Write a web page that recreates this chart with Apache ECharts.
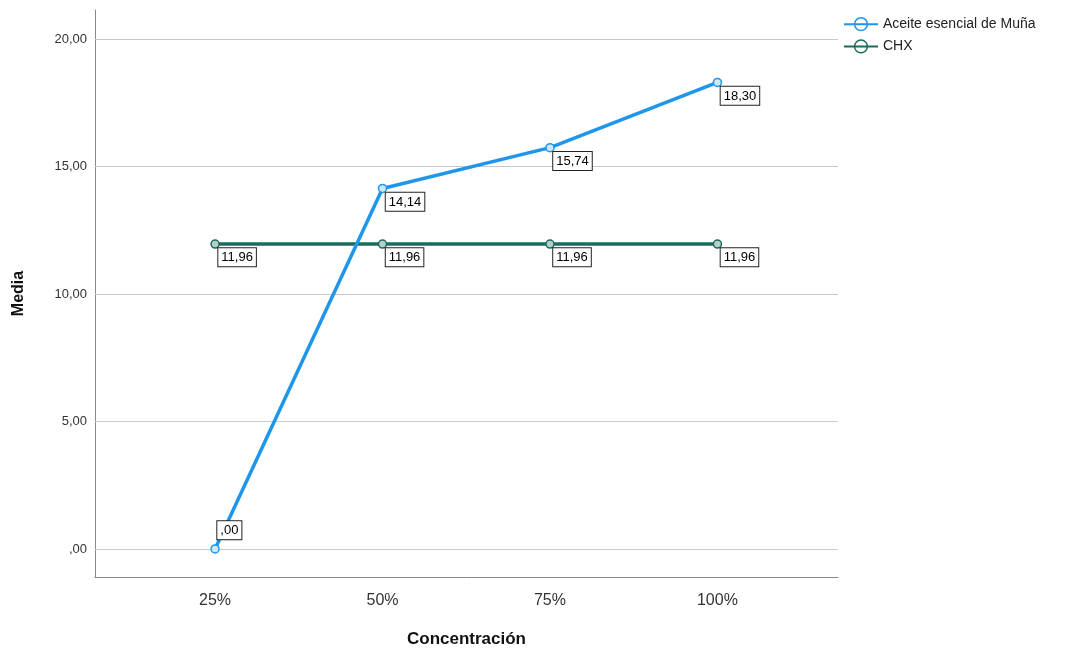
<!DOCTYPE html>
<html><head><meta charset="utf-8">
<script src="https://cdn.jsdelivr.net/npm/echarts@6/dist/echarts.min.js"></script>
<style>html,body{margin:0;padding:0;background:#fff}#c{width:1074px;height:655px}</style>
</head><body><div id="c"></div>
<script>
const categories = ['25%', '50%', '75%', '100%'];
const muna = [0.00, 14.14, 15.74, 18.30];
const chx = [11.96, 11.96, 11.96, 11.96];
const yTicks = [0, 5, 10, 15, 20];

function fmt(v){
  const s = v.toFixed(2).replace('.', ',');
  return s.startsWith('0,') ? s.slice(1) : s;
}
const FF = 'Liberation Sans, Arial, sans-serif';
const xs = categories.map((c, i) => i + 1);
const labelBase = {
  show: true, formatter: p => fmt(p.value[1]),
  color: '#000', fontSize: 13, fontFamily: FF,
  backgroundColor: '#fff', borderColor: '#222', borderWidth: 1, padding: [3, 3, 2, 3],
  position: [8, 9]
};
const chart = echarts.init(document.getElementById('c'));
chart.setOption({
  animation: false,
  grid: { left: 95, right: 236, top: 10, bottom: 78 },
  legend: {
    orient: 'vertical', left: 838, top: 12, itemGap: 8, itemWidth: 34, itemHeight: 16,
    textStyle: { fontSize: 14, color: '#222', fontFamily: FF },
    itemStyle: { color: 'transparent', borderWidth: 1.5 },
    data: ['Aceite esencial de Muña', 'CHX']
  },
  xAxis: {
    type: 'value', min: 0.283, max: 4.72,
    name: 'Concentración', nameLocation: 'middle', nameGap: 54,
    nameTextStyle: { fontSize: 17, fontWeight: 'bold', color: '#111', fontFamily: FF },
    axisLine: { show: true, onZero: false, lineStyle: { color: '#888', width: 1 } },
    axisTick: { show: false },
    splitLine: { show: false },
    axisLabel: { customValues: xs, formatter: v => categories[Math.round(v) - 1] || '',
      fontSize: 16, color: '#333', margin: 16, fontFamily: FF }
  },
  yAxis: {
    type: 'value', min: -1.1, max: 21.14,
    name: 'Media', nameLocation: 'middle', nameGap: 68, nameRotate: 90,
    nameTextStyle: { fontSize: 16, fontWeight: 'bold', color: '#111', fontFamily: FF },
    axisLine: { show: true, onZero: false, lineStyle: { color: '#888', width: 1 } },
    axisTick: { show: false },
    splitLine: { show: false },
    axisLabel: { customValues: yTicks, formatter: v => fmt(v), fontSize: 13, color: '#333', margin: 8, fontFamily: FF }
  },
  series: [
    {
      name: 'Aceite esencial de Muña', type: 'line',
      data: xs.map((x, i) => {
        const item = { value: [x, muna[i]] };
        if (muna[i] === 0) item.label = { position: [7, -23] };
        return item;
      }),
      symbol: 'circle', symbolSize: 8,
      lineStyle: { color: '#1E96EB', width: 3.5 },
      itemStyle: { color: '#cfe7f9', borderColor: '#1E96EB', borderWidth: 1.5 },
      label: Object.assign({}, labelBase),
      z: 3,
      markLine: {
        silent: true, symbol: 'none', label: { show: false },
        lineStyle: { color: '#c8c8c8', width: 1, type: 'solid' },
        data: yTicks.map(v => ({ yAxis: v })),
        z: 1
      }
    },
    {
      name: 'CHX', type: 'line',
      data: xs.map((x, i) => [x, chx[i]]),
      symbol: 'circle', symbolSize: 8,
      lineStyle: { color: '#1B6B5E', width: 3.5 },
      itemStyle: { color: '#b5d0cb', borderColor: '#1B6B5E', borderWidth: 1.5 },
      label: Object.assign({}, labelBase),
      z: 2
    }
  ]
});
</script></body></html>
